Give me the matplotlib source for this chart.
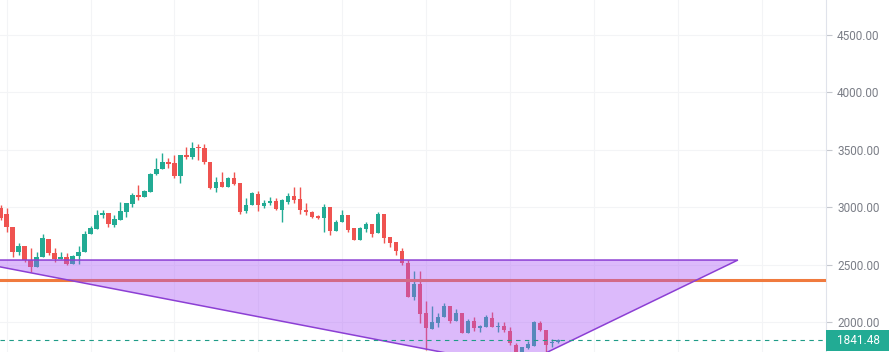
import matplotlib
matplotlib.use("Agg")
import matplotlib.pyplot as plt
from matplotlib.patches import Polygon, Rectangle
import numpy as np

# ---- data ----
opens = [2993, 2941, 2827, 2610, 2662, 2540, 2479, 2566, 2723, 2601,
         2549, 2566, 2505, 2575, 2610, 2766, 2810, 2932, 2949, 2845,
         2888, 2958, 3028, 3106, 3089, 3132, 3289, 3333, 3394, 3385,
         3272, 3455, 3437, 3524, 3516, 3394, 3167, 3219, 3176, 3254,
         3211, 2967, 3019, 3115, 3010, 3037, 3054, 2976, 3045, 3098,
         3071, 2976, 2958, 2923, 2906, 3002, 2793, 2871, 2932, 2819,
         2714, 2810, 2854, 2775, 2941, 2740, 2697, 2618, 2514, 2218,
         2331, 2078, 1939, 1991, 2043, 2139, 2009, 2078, 1904, 2009,
         1948, 1956, 2035, 1956, 1965, 1922, 1800, 1712, 1773, 1791,
         1991, 1930, 1817, 1826]
closes = [2906, 2827, 2610, 2662, 2540, 2479, 2566, 2732, 2601, 2549,
          2566, 2505, 2575, 2610, 2766, 2819, 2932, 2949, 2854, 2897,
          2967, 3037, 3106, 3089, 3141, 3289, 3333, 3394, 3376, 3272,
          3455, 3437, 3516, 3516, 3394, 3167, 3219, 3176, 3254, 3202,
          2958, 3019, 3124, 3019, 3037, 3054, 2984, 3063, 3098, 3063,
          2976, 2958, 2915, 2906, 3002, 2793, 2871, 2932, 2801, 2714,
          2819, 2854, 2766, 2941, 2732, 2688, 2618, 2514, 2218, 2331,
          2070, 1948, 2000, 2043, 2139, 2009, 2078, 1904, 2009, 1948,
          1965, 2043, 1956, 1965, 1930, 1817, 1739, 1782, 1808, 2000,
          1930, 1800, 1826, 1841.48]
highs = [3019, 2993, 2827, 2688, 2662, 2645, 2610, 2766, 2723, 2645,
         2610, 2601, 2584, 2662, 2793, 2836, 2976, 2976, 2949, 2932,
         3045, 3037, 3124, 3193, 3150, 3298, 3429, 3472, 3429, 3455,
         3455, 3524, 3568, 3550, 3550, 3394, 3263, 3307, 3263, 3307,
         3211, 3080, 3132, 3141, 3063, 3089, 3080, 3071, 3124, 3176,
         3176, 3037, 2967, 2932, 3028, 3002, 2888, 2976, 2932, 2819,
         2827, 2871, 2854, 2958, 2941, 2740, 2697, 2645, 2540, 2444,
         2444, 2183, 2139, 2078, 2166, 2139, 2113, 2078, 2026, 2043,
         1974, 2061, 2087, 2000, 2000, 1956, 1817, 1782, 1834, 2009,
         2009, 1930, 1852, 1852]
lows = [2888, 2784, 2566, 2584, 2523, 2436, 2479, 2566, 2584, 2523,
        2549, 2497, 2505, 2505, 2610, 2766, 2810, 2906, 2827, 2827,
        2888, 2915, 3002, 3063, 3089, 3132, 3280, 3333, 3341, 3254,
        3211, 3420, 3420, 3411, 3376, 3158, 3132, 3176, 3176, 3193,
        2941, 2949, 3019, 2967, 2993, 3019, 2976, 2871, 3028, 3037,
        2941, 2932, 2906, 2897, 2784, 2758, 2793, 2871, 2784, 2714,
        2714, 2784, 2740, 2775, 2688, 2653, 2584, 2497, 2218, 2192,
        1991, 1756, 1939, 1956, 2043, 1991, 2009, 1904, 1904, 1922,
        1913, 1956, 1956, 1913, 1913, 1800, 1712, 1695, 1765, 1791,
        1922, 1739, 1782, 1817]

y_ticks = [2000, 2500, 3000, 3500, 4000, 4500]
orange_level = 2366
last_price = closes[-1]
# triangle drawing anchor points (bar index, price)
tri_bar = [-6, 123, 86.2]
tri_price = [2540, 2540, 1611]
grid_bars = [1, 15, 29, 43, 57, 71, 85, 99, 113, 127]

# ---- style ----
UP = "#22ab94"
DOWN = "#ef5350"
W, H = 893, 352
fig = plt.figure(figsize=(W / 100, H / 100), dpi=100)
fig.patch.set_facecolor("white")
ax = fig.add_axes([0, 0, 826 / W, 1])
ax.set_facecolor("white")

o = np.array(opens, float)
c = np.array(closes, float)
h = np.array(highs, float)
l = np.array(lows, float)
x = np.arange(len(o))
up = c >= o
cols = np.where(up, UP, DOWN)

ax.vlines(x, l, h, colors=cols, linewidth=1.0, zorder=2)
body_low = np.minimum(o, c)
body_h = np.maximum(np.abs(c - o), 7)
ax.bar(x, body_h, bottom=body_low, width=0.7, color=cols, edgecolor="none", zorder=2.5)

ax.axhline(orange_level, color="#f07a3e", linewidth=2.2, zorder=3)

tri = Polygon(list(zip(tri_bar, tri_price)), closed=True,
              facecolor=(0.66, 0.33, 0.97, 0.40), edgecolor="#8c3fd4",
              linewidth=1.1, zorder=4)
ax.add_patch(tri)

ax.axhline(last_price, color="#1f9c87", linewidth=0.8, linestyle=(0, (4, 4)), zorder=5)

ax.set_xlim(-0.1, 137.7)
ax.set_ylim(1739, 4805)

ax.set_xticks(grid_bars)
ax.set_xticklabels([])
ax.tick_params(axis="x", length=0)
ax.set_yticks(y_ticks)
ax.set_yticklabels([f"{v:.2f}" for v in y_ticks])
ax.yaxis.tick_right()
ax.tick_params(axis="y", length=4, width=0.8, color="#c5c8ce", pad=4,
               labelsize=8.5, labelcolor="#7b7e87")
for lab in ax.get_yticklabels():
    lab.set_fontfamily("Roboto")
ax.grid(True, color="#f3f4f6", linewidth=0.8, zorder=0)
ax.set_axisbelow(True)
for s in ["top", "left", "bottom"]:
    ax.spines[s].set_visible(False)
ax.spines["right"].set_color("#e0e3eb")
ax.spines["right"].set_linewidth(0.8)

# last price label box on the price scale
ypix = ax.transData.transform((0, last_price))[1]
box_h = 21
fig.patches.append(Rectangle((826 / W, (ypix - box_h / 2) / H), 63 / W, box_h / H,
                             transform=fig.transFigure, facecolor=UP,
                             edgecolor="none", zorder=10))
fig.text(837 / W, ypix / H, f"{last_price:.2f}", color="white", fontsize=8.5,
         fontfamily="Roboto", va="center", ha="left", zorder=11)

fig.savefig("out.png", dpi=100)
